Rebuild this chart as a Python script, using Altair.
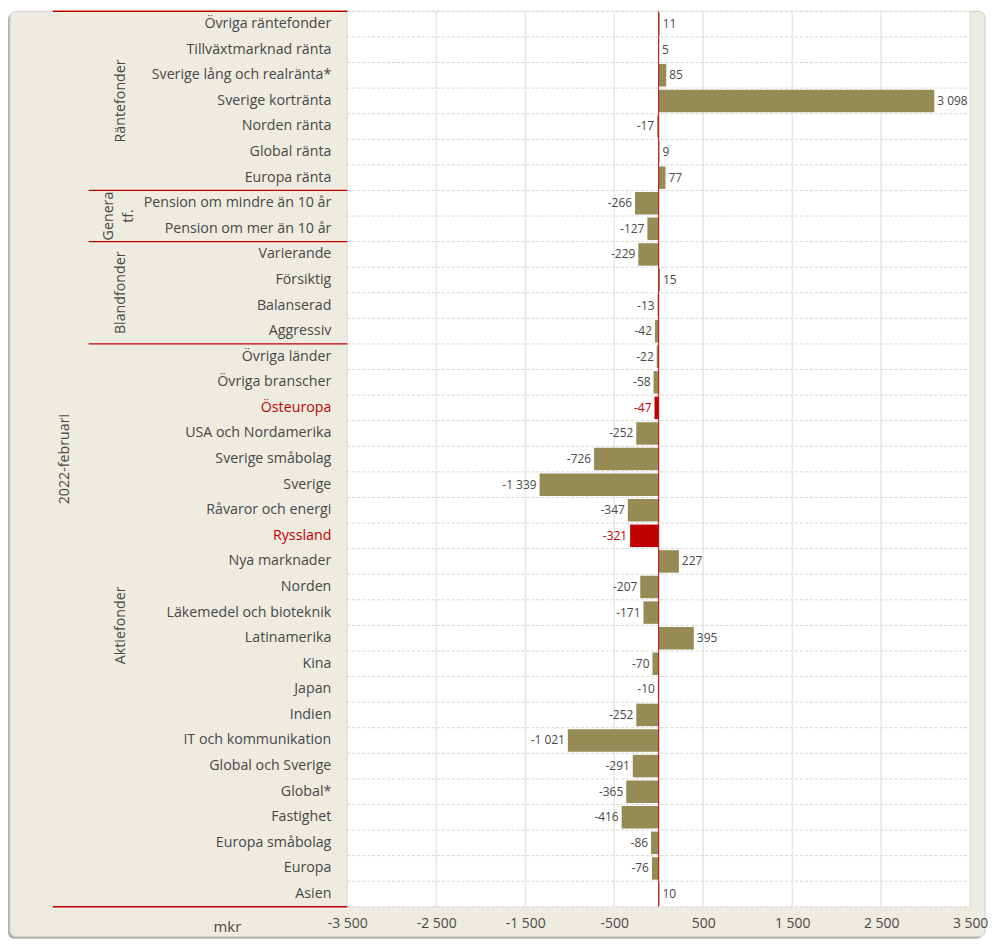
import altair as alt
import pandas as pd

# ---------------- data ----------------
groups = ["Räntefonder", "Genera tf.", "Blandfonder", "Aktiefonder"]
group_sizes = [7, 2, 4, 22]

categories = [
    "Övriga räntefonder", "Tillväxtmarknad ränta", "Sverige lång och realränta*",
    "Sverige kortränta", "Norden ränta", "Global ränta", "Europa ränta",
    "Pension om mindre än 10 år", "Pension om mer än 10 år",
    "Varierande", "Försiktig", "Balanserad", "Aggressiv",
    "Övriga länder", "Övriga branscher", "Östeuropa", "USA och Nordamerika",
    "Sverige småbolag", "Sverige", "Råvaror och energi", "Ryssland", "Nya marknader",
    "Norden", "Läkemedel och bioteknik", "Latinamerika", "Kina", "Japan", "Indien",
    "IT och kommunikation", "Global och Sverige", "Global*", "Fastighet",
    "Europa småbolag", "Europa", "Asien",
]
values = [
    11, 5, 85, 3098, -17, 9, 77,
    -266, -127,
    -229, 15, -13, -42,
    -22, -58, -47, -252, -726, -1339, -347, -321, 227,
    -207, -171, 395, -70, -10, -252, -1021, -291, -365, -416,
    -86, -76, 10,
]
highlighted = ["Östeuropa", "Ryssland"]
x_ticks = [-3500, -2500, -1500, -500, 500, 1500, 2500, 3500]
period_label = "2022-februari"
unit_label = "mkr"

# ---------------- styles ----------------
W, H = 626, 900
N = len(categories)
OLIVE = "#978B55"
RED = "#C00000"
TXT = "#484848"
BEIGE = "#EEEBE1"
FONT = "Open Sans"


def fmt(v):
    s = f"{abs(v):,}".replace(",", " ")
    return ("-" if v < 0 else "") + s


df = pd.DataFrame({"cat": categories, "value": values})
df["idx"] = range(N)
df["y0"] = df["idx"] + 0.06
df["y1"] = df["idx"] + 0.94
df["ymid"] = df["idx"] + 0.5
df["hl"] = df["cat"].isin(highlighted)
df["label"] = [fmt(v) for v in values]

bounds = [0]
for s in group_sizes:
    bounds.append(bounds[-1] + s)
gdf = pd.DataFrame({
    "group": groups,
    "mid": [(bounds[i] + bounds[i + 1]) / 2 for i in range(len(groups))],
})
gdf["lines"] = [g.split(" ") for g in groups]
outer_df = pd.DataFrame({"b": [bounds[0], bounds[-1]]})
inner_df = pd.DataFrame({"b": bounds[1:-1]})
hgrid_df = pd.DataFrame({"b": list(range(N + 1))})
vgrid_df = pd.DataFrame({"t": x_ticks})
one = pd.DataFrame({"a": [0]})
period_df = pd.DataFrame({"t": [period_label], "mid": [N / 2]})

xscale = alt.Scale(domain=[-3500, 3500], nice=False, zero=False)
yscale = alt.Scale(domain=[0, N], reverse=True, nice=False, zero=False)

label_expr = "(datum.value < 0 ? '-' : '') + replace(format(abs(datum.value), ','), ',', ' ')"

# background box
shadow = alt.Chart(one).mark_rect(fill="#B4B2AC", cornerRadius=6).encode(
    x=alt.value(-341), x2=alt.value(W + 13), y=alt.value(2), y2=alt.value(H + 32))
box = alt.Chart(one).mark_rect(fill=BEIGE, stroke="#CFCCC4", strokeWidth=1, cornerRadius=6).encode(
    x=alt.value(-339), x2=alt.value(W + 15), y=alt.value(0), y2=alt.value(H + 30))
plotbg = alt.Chart(one).mark_rect(fill="white").encode(
    x=alt.value(0), x2=alt.value(W), y=alt.value(0), y2=alt.value(H))

vgrid = alt.Chart(vgrid_df).mark_rule(color="#DADADA", strokeWidth=1).encode(
    x=alt.X("t:Q", scale=xscale,
            axis=alt.Axis(values=x_ticks, labelExpr=label_expr, grid=False, domain=False,
                          ticks=False, labelFontSize=14, labelColor=TXT, labelFont=FONT,
                          labelPadding=10, title=unit_label, titleFont=FONT, titleFontSize=15,
                          titleFontWeight="normal", titleColor=TXT, titleX=-121, titleY=20,
                          titleBaseline="middle", titleAlign="center", zindex=2,
                          labelFlush=False, labelOverlap=False)),
    y=alt.value(0), y2=alt.value(H))

hgrid = alt.Chart(hgrid_df).mark_rule(color="#D6D6D6", strokeWidth=1, strokeDash=[3, 2]).encode(
    y=alt.Y("b:Q", scale=yscale, axis=None), x=alt.value(0), x2=alt.value(W))

bars = alt.Chart(df).mark_rect().encode(
    x=alt.X("value:Q", scale=xscale), x2=alt.datum(0),
    y=alt.Y("y0:Q", scale=yscale, axis=None), y2="y1:Q",
    color=alt.condition("datum.hl", alt.value(RED), alt.value(OLIVE)))

zero = alt.Chart(one).mark_rule(color=RED, strokeWidth=1).encode(
    x=alt.datum(0, scale=xscale), y=alt.value(0), y2=alt.value(H))

txt_color = alt.condition("datum.hl", alt.value(RED), alt.value(TXT))
pos_lbl = alt.Chart(df).transform_filter("datum.value >= 0").mark_text(
    align="left", baseline="middle", dx=3, fontSize=12, font=FONT).encode(
    x=alt.X("value:Q", scale=xscale), y=alt.Y("ymid:Q", scale=yscale, axis=None),
    text="label:N", color=txt_color)
neg_lbl = alt.Chart(df).transform_filter("datum.value < 0").mark_text(
    align="right", baseline="middle", dx=-3, fontSize=12, font=FONT).encode(
    x=alt.X("value:Q", scale=xscale), y=alt.Y("ymid:Q", scale=yscale, axis=None),
    text="label:N", color=txt_color)

cat_lbl = alt.Chart(df).mark_text(align="right", baseline="middle", fontSize=14.3, font=FONT).encode(
    x=alt.value(-16), y=alt.Y("ymid:Q", scale=yscale, axis=None), text="cat:N", color=txt_color)

grp_single = alt.Chart(gdf).transform_filter("length(datum.lines) == 1").mark_text(
    align="center", baseline="middle", angle=270, fontSize=14.3, font=FONT, color=TXT).encode(
    x=alt.value(-227), y=alt.Y("mid:Q", scale=yscale, axis=None), text="group:N")
grp_multi = alt.Chart(gdf).transform_filter("length(datum.lines) > 1").mark_text(
    align="center", baseline="middle", angle=270, fontSize=14.3, font=FONT, color=TXT,
    lineHeight=20).encode(
    x=alt.value(-239), y=alt.Y("mid:Q", scale=yscale, axis=None), text="lines")

period = alt.Chart(period_df).mark_text(
    align="center", baseline="middle", angle=270, fontSize=14.3, font=FONT, color=TXT).encode(
    x=alt.value(-284), y=alt.Y("mid:Q", scale=yscale, axis=None), text="t:N")

outer_sep = alt.Chart(outer_df).mark_rule(color=RED, strokeWidth=1.5).encode(
    y=alt.Y("b:Q", scale=yscale, axis=None), x=alt.value(-296), x2=alt.value(0))
inner_sep = alt.Chart(inner_df).mark_rule(color=RED, strokeWidth=1.2).encode(
    y=alt.Y("b:Q", scale=yscale, axis=None), x=alt.value(-260), x2=alt.value(0))

chart = alt.layer(
    shadow, box, plotbg, vgrid, hgrid, bars, zero, pos_lbl, neg_lbl,
    cat_lbl, grp_single, grp_multi, period, outer_sep, inner_sep,
).properties(width=W, height=H, padding=0, background="white").configure_view(stroke=None)

chart.save("out.html", embed_options={"renderer": "svg", "actions": False})
